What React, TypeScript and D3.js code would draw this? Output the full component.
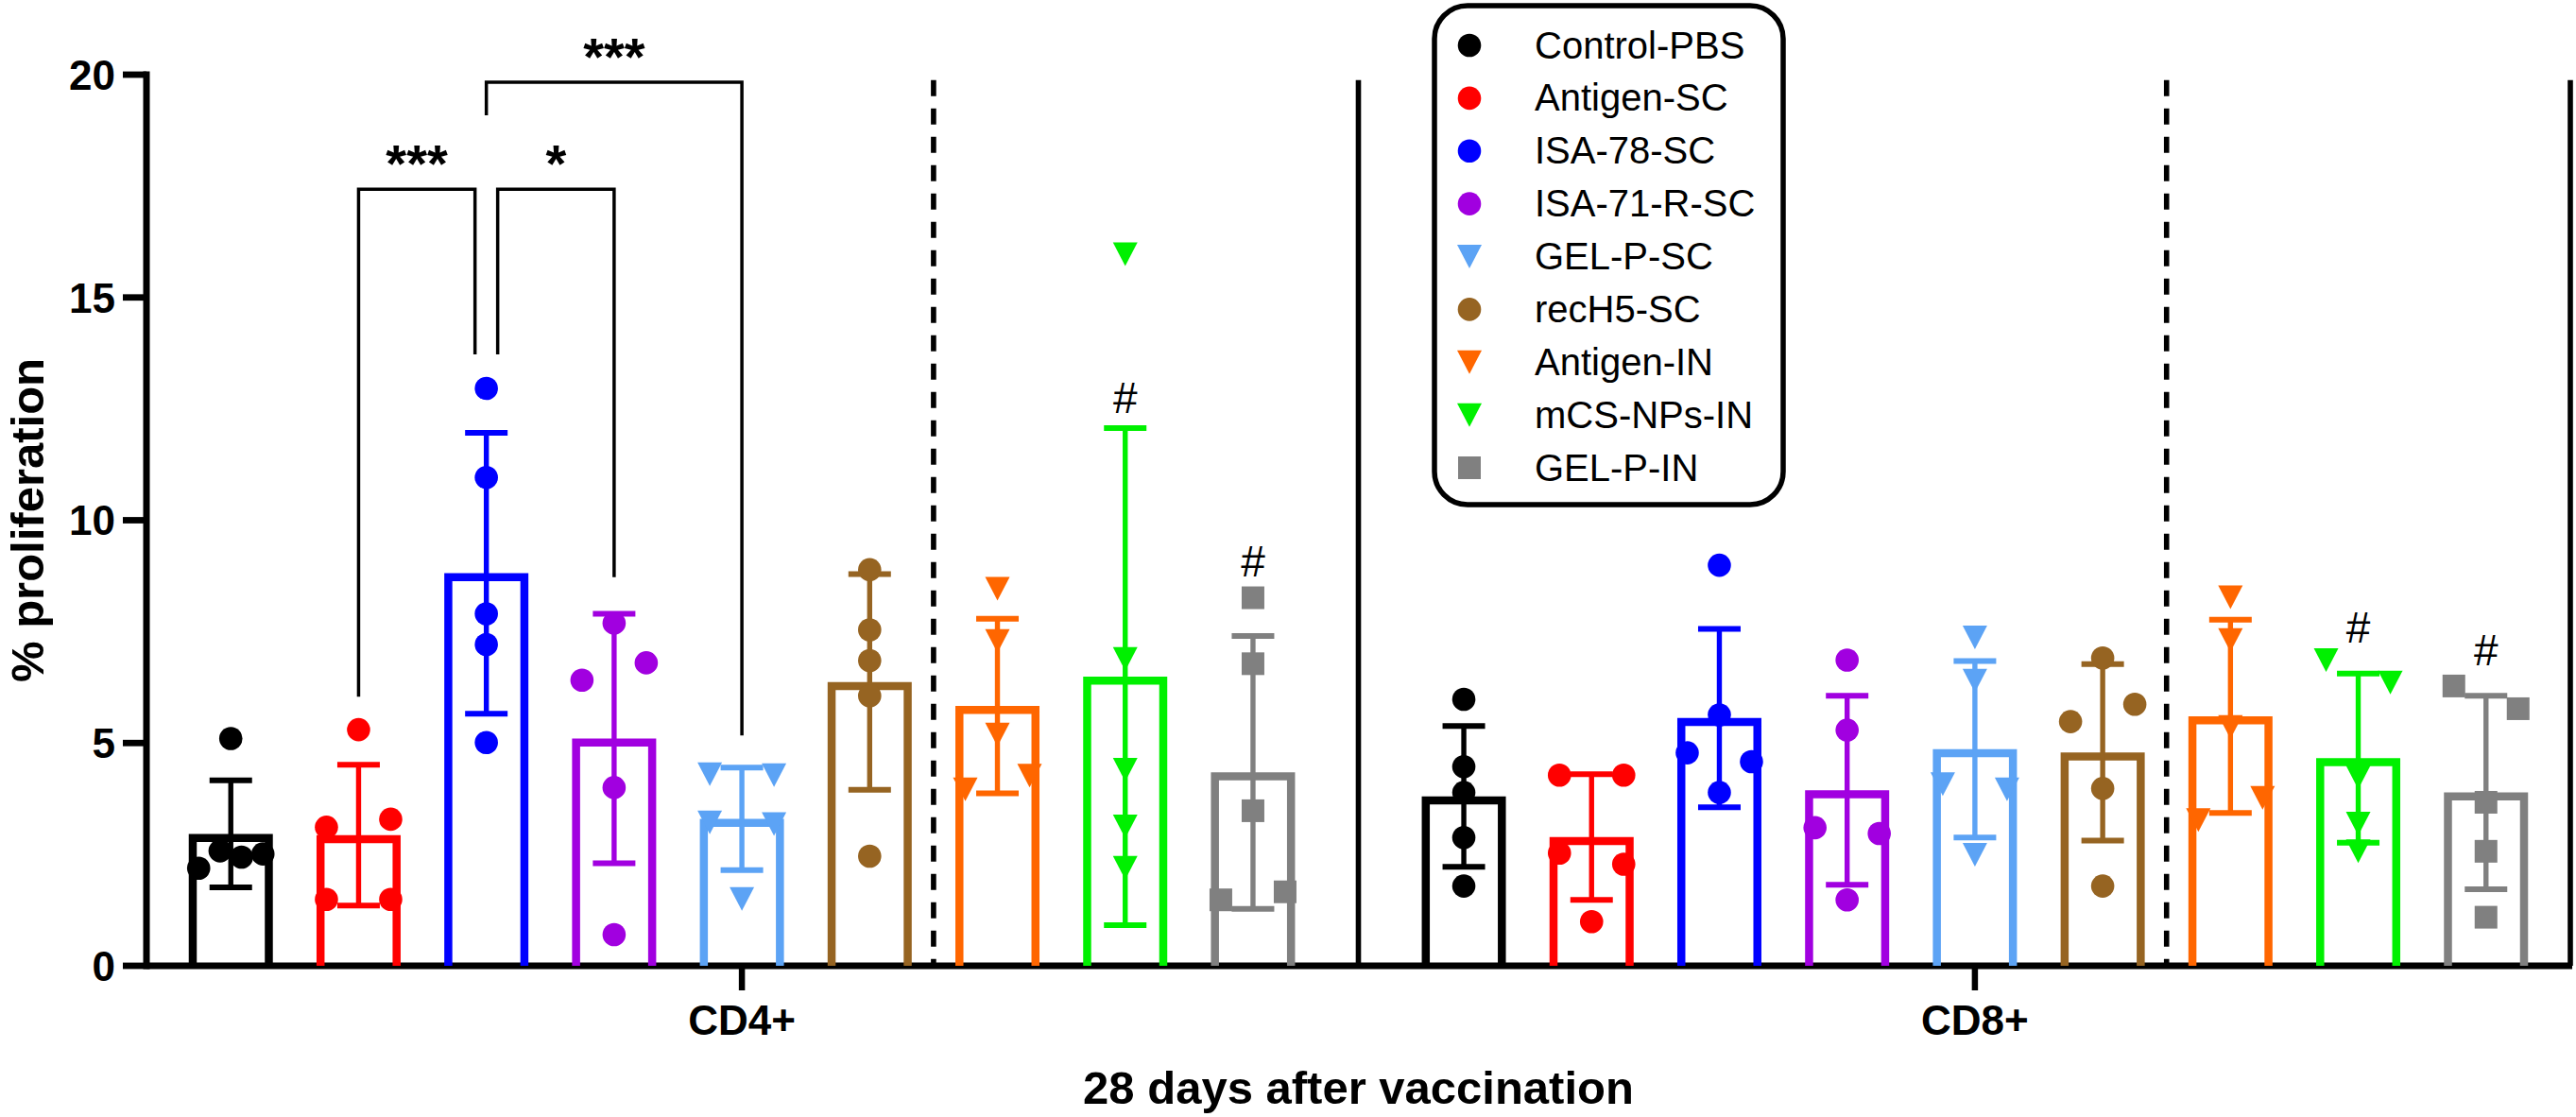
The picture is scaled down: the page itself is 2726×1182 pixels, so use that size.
import * as React from 'react'
import * as d3 from 'd3'

const CATEGORIES = ['CD4+', 'CD8+']
const GROUPS = ['Control-PBS', 'Antigen-SC', 'ISA-78-SC', 'ISA-71-R-SC', 'GEL-P-SC', 'recH5-SC', 'Antigen-IN', 'mCS-NPs-IN', 'GEL-P-IN']
const GROUP_COLORS = ['#000000', '#ff0000', '#0000ff', '#a100e0', '#5ca3f5', '#966422', '#ff6600', '#00f000', '#808080']
const GROUP_SHAPES = ['circle', 'circle', 'circle', 'circle', 'triangle', 'circle', 'triangle', 'triangle', 'square']

const CD4_MEAN = [2.96, 2.93, 8.81, 5.1, 3.3, 6.37, 5.83, 6.49, 4.34]
const CD4_SD = [1.2, 1.58, 3.15, 2.8, 1.15, 2.42, 1.96, 5.58, 3.06]
const CD4_POINTS = [
  [5.1, 2.19, 2.58, 2.44, 2.51],
  [5.3, 3.11, 3.29, 1.49, 1.49],
  [12.96, 10.96, 7.9, 7.21, 5.01],
  [7.69, 6.41, 6.8, 4.0, 0.7],
  [4.3, 4.28, 3.22, 3.18, 1.5],
  [8.89, 7.54, 6.85, 6.06, 2.46],
  [8.46, 7.29, 5.19, 3.96, 4.27],
  [15.97, 6.89, 4.4, 3.13, 2.2],
  [8.26, 6.78, 3.48, 1.48, 1.66],
]

const CD8_MEAN = [3.8, 2.89, 5.56, 3.94, 4.86, 4.79, 5.6, 4.66, 3.89]
const CD8_SD = [1.58, 1.41, 2.0, 2.12, 1.98, 1.98, 2.17, 1.9, 2.17]
const CD8_POINTS = [
  [5.98, 4.47, 3.89, 2.88, 1.79],
  [4.28, 4.28, 2.53, 2.28, 0.99],
  [8.99, 5.63, 4.78, 4.58, 3.89],
  [6.86, 5.29, 3.1, 2.97, 1.48],
  [7.37, 6.4, 4.08, 3.96, 2.49],
  [6.91, 5.48, 5.87, 3.98, 1.79],
  [8.27, 7.31, 5.36, 3.27, 3.77],
  [6.86, 6.36, 4.23, 3.19, 2.57],
  [6.28, 5.77, 3.67, 2.57, 1.09],
]

const Y_TICKS = [0, 5, 10, 15, 20]

// significance brackets (CD4+ only), values in % units
const SIG_BRACKETS = [
  { cat: 0, from: 1, to: 2, label: '***', level: 17.43, legs: [6.04, 13.72] },
  { cat: 0, from: 2, to: 3, label: '*', level: 17.43, legs: [13.72, 8.72] },
  { cat: 0, from: 2, to: 4, label: '***', level: 19.83, legs: [19.09, 5.17] },
]

// "#" marks, baseline in % units
const HASH_MARKS = [
  { cat: 0, group: 7, level: 12.4 },
  { cat: 0, group: 8, level: 8.74 },
  { cat: 1, group: 7, level: 7.25 },
  { cat: 1, group: 8, level: 6.74 },
]

const MEANS = [CD4_MEAN, CD8_MEAN]
const SDS = [CD4_SD, CD8_SD]
const POINTS = [CD4_POINTS, CD8_POINTS]

const W = 2726
const H = 1182
const FONT = '"Liberation Sans", Arial, Helvetica, sans-serif'
const CAT_OFFSET = 9.65 // slot offset of the second category
const BAR_W = 89
const BAR_STROKE = 8.5

const y = d3.scaleLinear().domain([0, 20]).range([1022, 79])
const x = d3.scaleLinear().domain([-0.66, 18.31]).range([155, 2720])
const slot = (cat: number, g: number) => cat * CAT_OFFSET + g

// spread colliding points sideways like the Prism scatter
function dodge(values: number[], minGap = 25, spread = 34) {
  const offsets = values.map(() => 0)
  const order = values.map((_, i) => i).sort((a, b) => values[a] - values[b])
  let cluster: number[] = [order[0]]
  const flush = () => {
    if (cluster.length > 1) {
      const members = [...cluster].sort((a, b) => a - b)
      const step = (2 * spread) / (members.length - 1)
      members.forEach((m, k) => (offsets[m] = -spread + k * step))
    }
  }
  for (let k = 1; k < order.length; k++) {
    const prev = order[k - 1]
    const cur = order[k]
    if (Math.abs(y(values[cur]) - y(values[prev])) < minGap) cluster.push(cur)
    else {
      flush()
      cluster = [cur]
    }
  }
  flush()
  return offsets
}

function Marker({ shape, cx, cy, color }: { shape: string; cx: number; cy: number; color: string }) {
  if (shape === 'triangle') {
    return <path d={`M${cx - 13},${cy - 12.5}L${cx + 13},${cy - 12.5}L${cx},${cy + 12.5}Z`} fill={color} />
  }
  if (shape === 'square') {
    return <rect x={cx - 12} y={cy - 12} width={24} height={24} fill={color} />
  }
  return <circle cx={cx} cy={cy} r={12.3} fill={color} />
}

function Bars() {
  const out: React.ReactNode[] = []
  MEANS.forEach((means, c) => {
    means.forEach((m, g) => {
      const cx = x(slot(c, g))
      const color = GROUP_COLORS[g]
      const x0 = cx - BAR_W / 2 + BAR_STROKE / 2
      const x1 = cx + BAR_W / 2 - BAR_STROKE / 2
      const top = y(m) + BAR_STROKE / 2
      const sd = SDS[c][g]
      const hi = y(m + sd)
      const lo = y(Math.max(0, m - sd))
      const pts = POINTS[c][g]
      const offs = dodge(pts)
      out.push(
        <g key={`${c}-${g}`}>
          <path d={`M${x0},${y(0)}V${top}H${x1}V${y(0)}`} fill="none" stroke={color} strokeWidth={BAR_STROKE} />
          <line x1={cx} x2={cx} y1={hi} y2={lo} stroke={color} strokeWidth={5.4} />
          <line x1={cx - 22.5} x2={cx + 22.5} y1={hi} y2={hi} stroke={color} strokeWidth={6} />
          <line x1={cx - 22.5} x2={cx + 22.5} y1={lo} y2={lo} stroke={color} strokeWidth={6} />
          {pts.map((v, i) => (
            <Marker key={i} shape={GROUP_SHAPES[g]} cx={cx + offs[i]} cy={y(v)} color={color} />
          ))}
        </g>
      )
    })
  })
  return <g>{out}</g>
}

function Brackets() {
  const nudge = (b: typeof SIG_BRACKETS[number], g: number, side: number) => {
    const shared = SIG_BRACKETS.some(
      (o) => o !== b && o.level === b.level && o.cat === b.cat && (o.from === g || o.to === g)
    )
    return shared ? side * 12 : 0
  }
  return (
    <g>
      {SIG_BRACKETS.map((b, i) => {
        const xl = x(slot(b.cat, b.from)) + nudge(b, b.from, 1)
        const xr = x(slot(b.cat, b.to)) + nudge(b, b.to, -1)
        const yl = y(b.level)
        return (
          <g key={i}>
            <path
              d={`M${xl},${y(b.legs[0])}V${yl}H${xr}V${y(b.legs[1])}`}
              fill="none"
              stroke="#000"
              strokeWidth={3.5}
            />
            <text
              x={(xl + xr) / 2}
              y={yl - 8}
              textAnchor="middle"
              fontFamily={FONT}
              fontWeight="bold"
              fontSize={56}
            >
              {b.label}
            </text>
          </g>
        )
      })}
      {HASH_MARKS.map((h, i) => (
        <text key={i} x={x(slot(h.cat, h.group))} y={y(h.level)} textAnchor="middle" fontFamily={FONT} fontSize={46}>
          #
        </text>
      ))}
    </g>
  )
}

function Axes() {
  const sepTop = y(19.88)
  const dashed = [5.5, CAT_OFFSET + 5.5]
  const solid = [8.825, 18.31]
  return (
    <g>
      {dashed.map((s) => (
        <line key={`d${s}`} x1={x(s)} x2={x(s)} y1={sepTop} y2={y(0)} stroke="#000" strokeWidth={5.6} strokeDasharray="17 13" />
      ))}
      {solid.map((s) => (
        <line key={`s${s}`} x1={x(s)} x2={x(s)} y1={sepTop} y2={y(0)} stroke="#000" strokeWidth={5.6} />
      ))}
      <line x1={x(-0.66)} x2={x(-0.66)} y1={y(0) + 3.5} y2={y(20) - 3.5} stroke="#000" strokeWidth={7} />
      <line x1={x(-0.66)} x2={x(18.31) + 2} y1={y(0)} y2={y(0)} stroke="#000" strokeWidth={7} />
      {Y_TICKS.map((t) => (
        <g key={t}>
          <line x1={x(-0.66) - 25} x2={x(-0.66)} y1={y(t)} y2={y(t)} stroke="#000" strokeWidth={6.8} />
          <text
            x={x(-0.66) - 33}
            y={y(t)}
            dy="0.36em"
            textAnchor="end"
            fontFamily={FONT}
            fontWeight="bold"
            fontSize={44}
          >
            {t}
          </text>
        </g>
      ))}
      {CATEGORIES.map((c, i) => {
        const cx = x(slot(i, 4))
        return (
          <g key={c}>
            <line x1={cx} x2={cx} y1={y(0)} y2={y(0) + 26} stroke="#000" strokeWidth={6.5} />
            <text x={cx} y={1095} textAnchor="middle" fontFamily={FONT} fontWeight="bold" fontSize={44}>
              {c}
            </text>
          </g>
        )
      })}
      <text
        x={(x(-0.66) + x(18.31)) / 2}
        y={1168}
        textAnchor="middle"
        fontFamily={FONT}
        fontWeight="bold"
        fontSize={49}
      >
        28 days after vaccination
      </text>
      <text
        transform={`translate(46,${(y(0) + y(20)) / 2}) rotate(-90)`}
        textAnchor="middle"
        fontFamily={FONT}
        fontWeight="bold"
        fontSize={49}
      >
        % proliferation
      </text>
    </g>
  )
}

function Legend() {
  const rowY = d3.scaleLinear().domain([0, GROUPS.length - 1]).range([48, 495])
  return (
    <g>
      <rect x={1518} y={6} width={369} height={528} rx={35} ry={35} fill="#fff" stroke="#000" strokeWidth={5.5} />
      {GROUPS.map((g, i) => (
        <g key={g}>
          <Marker shape={GROUP_SHAPES[i]} cx={1555} cy={rowY(i)} color={GROUP_COLORS[i]} />
          <text x={1624} y={rowY(i) + 13.5} fontFamily={FONT} fontSize={40}>
            {g}
          </text>
        </g>
      ))}
    </g>
  )
}

export default function App() {
  return (
    <svg
      width={W}
      height={H}
      viewBox={`0 0 ${W} ${H}`}
      style={{ position: 'absolute', left: 0, top: 0, display: 'block', background: '#fff' }}
    >
      <rect width={W} height={H} fill="#fff" />
      <Axes />
      <Bars />
      <Brackets />
      <Legend />
    </svg>
  )
}
